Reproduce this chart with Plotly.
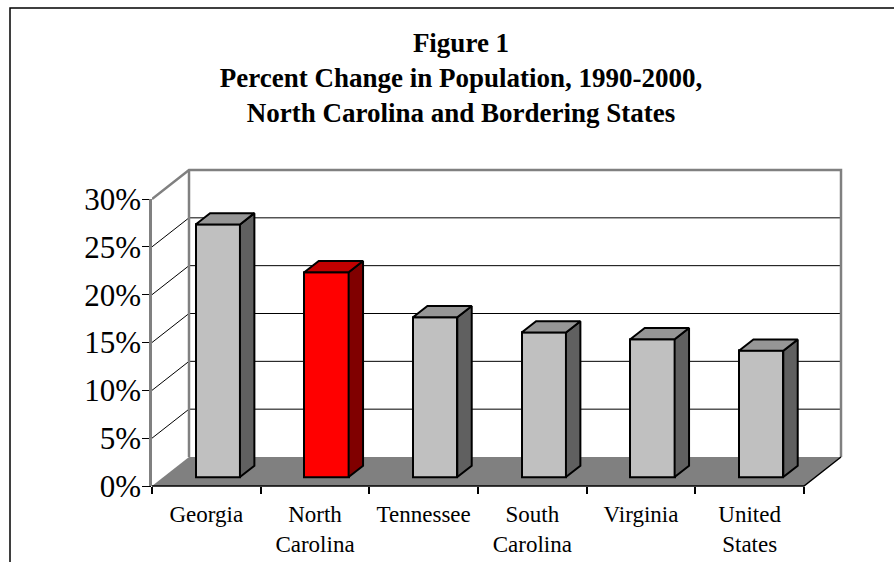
import plotly.graph_objects as go

# ---- data ----
categories = ["Georgia", "North<br>Carolina", "Tennessee", "South<br>Carolina", "Virginia", "United<br>States"]
pct_change = [26.4, 21.4, 16.7, 15.1, 14.4, 13.2]
highlight = [False, True, False, False, False, False]
y_ticks = [0, 5, 10, 15, 20, 25, 30]
y_tick_labels = [f"{v}%" for v in y_ticks]
title_lines = ["Figure 1", "Percent Change in Population, 1990-2000,", "North Carolina and Bordering States"]

# ---- geometry / style ----
W, H = 894, 562
FRONT_LEFT_PX = 152.0
CAT_PX = (804.0 - 152.0) / 6
ZERO_PX = 486.0
PCT_PX = (486.0 - 199.0) / 30
DXu = 37.0 / CAT_PX          # full depth offset in x units
DYu = 29.0 / PCT_PX          # full depth offset in % units
F_FRONT, F_BACK = 0.31, 0.70 # bar depth position (fraction of full depth)
BAR_W = 44.3 / CAT_PX
YMAX = 30

n = len(categories)
XR = [-0.5, n - 0.5 + 0.4]
YR = [-0.3, YMAX + DYu + 0.6]

def px_x(v):
    return FRONT_LEFT_PX + (v + 0.5) * CAT_PX

def px_y(v):
    return ZERO_PX - v * PCT_PX

xdom = [px_x(XR[0]) / W, px_x(XR[1]) / W]
ydom = [(H - px_y(YR[0])) / H, (H - px_y(YR[1])) / H]
y2dom = [(H - px_y(0)) / H, (H - px_y(YMAX)) / H]

GRAY_FRONT, GRAY_SIDE, GRAY_TOP = "#C0C0C0", "#606060", "#969696"
RED_FRONT, RED_SIDE, RED_TOP = "#FF0000", "#800000", "#C00000"
FLOOR = "#808080"
WALL_EDGE = "#808080"
SERIF = "Liberation Serif, Times New Roman, serif"

fig = go.Figure()

# ---- front faces as real bars ----
base_off = F_FRONT * DYu
x_off = F_FRONT * DXu
fig.add_trace(go.Bar(
    x=[i + x_off for i in range(n)],
    y=pct_change,
    base=[base_off] * n,
    width=BAR_W,
    marker=dict(color=[RED_FRONT if h else GRAY_FRONT for h in highlight],
                line=dict(color="black", width=2)),
    hoverinfo="skip", showlegend=False,
))

# ---- side and top faces ----
ddx = (F_BACK - F_FRONT) * DXu
ddy = (F_BACK - F_FRONT) * DYu
for i, (v, h) in enumerate(zip(pct_change, highlight)):
    xl = i + x_off - BAR_W / 2
    xr = i + x_off + BAR_W / 2
    b = base_off
    t = base_off + v
    fig.add_trace(go.Scatter(
        x=[xr, xr + ddx, xr + ddx, xr, xr],
        y=[b, b + ddy, t + ddy, t, b],
        mode="lines", fill="toself",
        fillcolor=RED_SIDE if h else GRAY_SIDE,
        line=dict(color="black", width=2),
        hoverinfo="skip", showlegend=False))
    fig.add_trace(go.Scatter(
        x=[xl, xr, xr + ddx, xl + ddx, xl],
        y=[t, t, t + ddy, t + ddy, t],
        mode="lines", fill="toself",
        fillcolor=RED_TOP if h else GRAY_TOP,
        line=dict(color="black", width=2),
        hoverinfo="skip", showlegend=False))

# invisible trace to anchor the overlay axes
fig.add_trace(go.Scatter(x=[0], y=[0], xaxis="x2", yaxis="y2", mode="markers",
                         marker=dict(opacity=0), hoverinfo="skip", showlegend=False))

# ---- walls, floor, gridlines (below) ----
L = -0.5
R = n - 0.5
shapes = []
# floor
shapes.append(dict(type="path", layer="below", xref="x", yref="y",
                   path=f"M {L},0 L {R},0 L {R+DXu},{DYu} L {L+DXu},{DYu} Z",
                   fillcolor=FLOOR, line=dict(width=0)))
# gridlines on left wall and back wall
for v in y_ticks:
    if v == 0 or v == YMAX:
        continue
    shapes.append(dict(type="line", layer="below", xref="x", yref="y",
                       x0=L, y0=v, x1=L + DXu, y1=v + DYu,
                       line=dict(color="black", width=1)))
    shapes.append(dict(type="line", layer="below", xref="x", yref="y",
                       x0=L + DXu, y0=v + DYu, x1=R + DXu, y1=v + DYu,
                       line=dict(color="black", width=1)))
# wall edges (gray)
shapes.append(dict(type="path", layer="below", xref="x", yref="y",
                   path=f"M {L},{YMAX} L {L+DXu},{YMAX+DYu} L {R+DXu},{YMAX+DYu} L {R+DXu},{DYu}",
                   line=dict(color=WALL_EDGE, width=2.5)))
shapes.append(dict(type="line", layer="below", xref="x", yref="y",
                   x0=L + DXu, y0=DYu, x1=L + DXu, y1=YMAX + DYu,
                   line=dict(color=WALL_EDGE, width=2.5)))
# front floor edges
shapes.append(dict(type="path", layer="below", xref="x", yref="y",
                   path=f"M {L},0 L {R},0 L {R+DXu},{DYu}",
                   line=dict(color="black", width=1.5)))
# outer chart border
shapes.append(dict(type="rect", xref="paper", yref="paper",
                   x0=10 / W, y0=-0.05, x1=1.05, y1=1 - 8 / H,
                   line=dict(color="black", width=1.5)))

fig.update_layout(
    width=W, height=H,
    margin=dict(l=0, r=0, t=0, b=0, autoexpand=False),
    paper_bgcolor="white", plot_bgcolor="rgba(0,0,0,0)",
    shapes=shapes,
    showlegend=False,
    title=dict(text="<br>".join(f"<b>{s}</b>" for s in title_lines),
               x=461 / W, xanchor="center", xref="paper",
               y=1 - 52 / H, yanchor="top", yref="container",
               font=dict(family=SERIF, size=27, color="black")),
    xaxis=dict(domain=xdom, range=XR, anchor="y2",
               tickmode="array", tickvals=[k - 0.5 for k in range(n + 1)],
               showticklabels=False, ticks="outside", ticklen=7, tickwidth=1.5,
               tickcolor="black", showline=False, showgrid=False, zeroline=False,
               fixedrange=True),
    xaxis2=dict(overlaying="x", range=XR, anchor="y2", side="bottom",
                tickmode="array", tickvals=list(range(n)), ticktext=categories,
                ticks="outside", ticklen=7, tickcolor="rgba(0,0,0,0)",
                tickfont=dict(family=SERIF, size=23, color="black"),
                showline=False, showgrid=False, zeroline=False, fixedrange=True),
    # primary y axis: only draws the tick marks on the front-left edge
    yaxis=dict(domain=ydom, range=YR, anchor="x", side="left",
               tickmode="array", tickvals=y_ticks, showticklabels=False,
               ticks="outside", ticklen=9, tickwidth=1.3, tickcolor="black",
               showline=False, showgrid=False, zeroline=False, fixedrange=True),
    # secondary y axis: front-left edge line and labels
    yaxis2=dict(domain=y2dom, range=[0, YMAX], anchor="x", side="left",
                tickmode="array", tickvals=y_ticks, ticktext=y_tick_labels,
                ticks="outside", ticklen=2, tickcolor="rgba(0,0,0,0)",
                showline=True, linecolor=WALL_EDGE, linewidth=2.5,
                showgrid=False, zeroline=False,
                tickfont=dict(family=SERIF, size=31, color="black"),
                fixedrange=True),
    bargap=0,
)

fig.write_html("out.html", config={"displayModeBar": False},
               post_script="document.body.style.margin='0';")
